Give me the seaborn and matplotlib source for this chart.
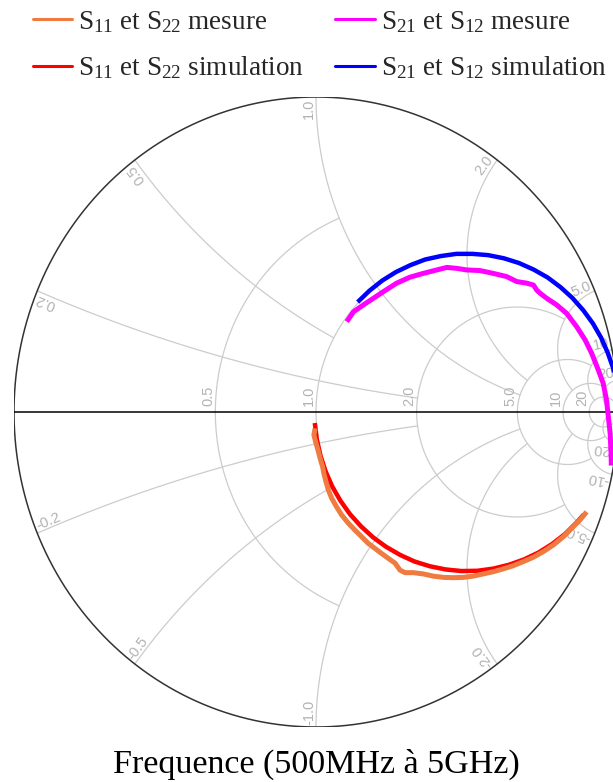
import numpy as np
import pandas as pd
import matplotlib
matplotlib.use('Agg')
import matplotlib.pyplot as plt
import seaborn as sns

s11_sim_re = [-0.004, 0.003, 0.015, 0.032, 0.054, 0.081, 0.113, 0.149, 0.189, 0.232, 0.279, 0.327,
              0.378, 0.430, 0.482, 0.535, 0.588, 0.639, 0.689, 0.737, 0.782, 0.825, 0.863, 0.887]
s11_sim_im = [-0.035, -0.088, -0.139, -0.189, -0.237, -0.282, -0.325, -0.363, -0.398, -0.428, -0.454, -0.475,
              -0.490, -0.500, -0.505, -0.504, -0.497, -0.485, -0.468, -0.446, -0.419, -0.387, -0.351, -0.325]

s11_mes_re = [-0.003, -0.007, 0.000, 0.008, 0.015, 0.022, 0.026, 0.033, 0.041, 0.052, 0.068, 0.085,
              0.107, 0.129, 0.151, 0.173, 0.195, 0.217, 0.240, 0.262, 0.278, 0.295, 0.322, 0.355,
              0.388, 0.422, 0.455, 0.488, 0.521, 0.554, 0.587, 0.620, 0.653, 0.686, 0.720, 0.753,
              0.786, 0.819, 0.847, 0.874, 0.896]
s11_mes_im = [-0.052, -0.073, -0.099, -0.126, -0.152, -0.174, -0.195, -0.221, -0.248, -0.274, -0.301, -0.327,
              -0.353, -0.375, -0.396, -0.417, -0.433, -0.449, -0.465, -0.480, -0.502, -0.510, -0.510, -0.514,
              -0.521, -0.525, -0.526, -0.525, -0.521, -0.514, -0.507, -0.498, -0.488, -0.475, -0.461, -0.443,
              -0.422, -0.396, -0.369, -0.343, -0.317]

s21_sim_re = [0.138, 0.177, 0.219, 0.264, 0.312, 0.361, 0.413, 0.465, 0.518, 0.570, 0.622, 0.672,
              0.721, 0.767, 0.810, 0.849, 0.885, 0.917, 0.944, 0.966, 0.984, 0.995]
s21_sim_im = [0.349, 0.385, 0.417, 0.444, 0.466, 0.484, 0.495, 0.502, 0.502, 0.498, 0.488, 0.473,
              0.452, 0.427, 0.396, 0.362, 0.323, 0.281, 0.236, 0.188, 0.139, 0.087]

s21_mes_re = [0.102, 0.124, 0.157, 0.190, 0.223, 0.267, 0.311, 0.355, 0.400, 0.433, 0.466, 0.499,
              0.543, 0.587, 0.631, 0.665, 0.698, 0.720, 0.731, 0.742, 0.764, 0.797, 0.830, 0.863,
              0.891, 0.913, 0.935, 0.951, 0.962, 0.968, 0.974, 0.977, 0.978]
s21_mes_im = [0.287, 0.318, 0.340, 0.361, 0.382, 0.409, 0.428, 0.440, 0.451, 0.459, 0.456, 0.451,
              0.449, 0.440, 0.430, 0.414, 0.409, 0.403, 0.387, 0.377, 0.361, 0.340, 0.313, 0.271,
              0.229, 0.186, 0.133, 0.091, 0.038, -0.015, -0.068, -0.131, -0.170]

# Smith grid: tick values and where each gridline is cut
real_ticks = [0.5, 1.0, 2.0, 5.0, 10, 20]
real_cut = [1.0, 2.0, 5.0, 10, 20, 50]
imag_ticks = [0.2, 0.5, 1.0, 2.0, 5.0, 10, 20]
imag_cut = [2.0, 1.0, 5.0, 5.0, 10, 20, 50]


def gamma(z):
    return (z - 1) / (z + 1)


def fmt(v):
    return f'{v:.1f}' if abs(v) < 10 else f'{v:.0f}'


sns.set_theme(style='white')
plt.rcParams['font.family'] = ['Liberation Serif', 'DejaVu Serif']
plt.rcParams['mathtext.fontset'] = 'custom'
plt.rcParams['mathtext.rm'] = 'Liberation Serif'
plt.rcParams['mathtext.it'] = 'Liberation Serif:italic'

W, H = 613, 782
fig = plt.figure(figsize=(W / 100, H / 100), dpi=100)
fig.patch.set_facecolor('white')
# unit circle: centre (316, 412) px, radii 302 x 315 px
ax = fig.add_axes([14 / W, (H - 727) / H, 604 / W, 630 / H])
ax.set_xlim(-1, 1)
ax.set_ylim(-1, 1)
ax.axis('off')

grid_kw = dict(color='#cccccc', lw=0.9, zorder=1)
for r, xmax in zip(real_ticks, real_cut):
    xs = np.linspace(-xmax, xmax, 3000)
    g = gamma(r + 1j * xs)
    ax.plot(g.real, g.imag, **grid_kw)
for x, rmax in zip(imag_ticks, imag_cut):
    rs = np.linspace(0, rmax, 3000)
    for s in (1, -1):
        g = gamma(rs + 1j * s * x)
        ax.plot(g.real, g.imag, **grid_kw)

t = np.linspace(0, 2 * np.pi, 1000)
ax.plot(np.cos(t), np.sin(t), color='#333333', lw=1.1, zorder=2)
ax.plot([-1, 1], [0, 0], color='black', lw=1.1, zorder=2)

lab_kw = dict(color='#b3b3b3', fontsize=10.5, family='Liberation Sans',
              rotation_mode='anchor', zorder=3)
for r in real_ticks:
    g = (r - 1) / (r + 1)
    ax.text(g, 6 / 315, fmt(r), rotation=90, ha='left', va='bottom', **lab_kw)
for x in imag_ticks:
    for s in (1, -1):
        g = gamma(1j * s * x)
        th = np.degrees(np.angle(g))
        px, py = g.real * (1 - 2 / 302), g.imag * (1 - 2 / 315)
        if s > 0:
            ax.text(px, py, fmt(x), rotation=th, ha='right', va='bottom', **lab_kw)
        else:
            ax.text(px, py, fmt(-x), rotation=th + 180, ha='left', va='bottom', **lab_kw)

series = [
    ('$\\mathrm{S}_{11}$ et $\\mathrm{S}_{22}$ simulation', s11_sim_re, s11_sim_im, '#ff0000', 3.2),
    ('$\\mathrm{S}_{21}$ et $\\mathrm{S}_{12}$ simulation', s21_sim_re, s21_sim_im, '#0000ff', 3.2),
    ('$\\mathrm{S}_{11}$ et $\\mathrm{S}_{22}$ mesure', s11_mes_re, s11_mes_im, '#ef7b40', 3.6),
    ('$\\mathrm{S}_{21}$ et $\\mathrm{S}_{12}$ mesure', s21_mes_re, s21_mes_im, '#ff00ff', 3.6),
]
lines = {}
for name, re, im, col, lw in series:
    df = pd.DataFrame({'re': re, 'im': im})
    sns.lineplot(data=df, x='re', y='im', sort=False, estimator=None, color=col,
                 lw=lw, ax=ax, zorder=5, solid_capstyle='butt', solid_joinstyle='round')
    lines[name] = ax.lines[-1]

order = [series[2][0], series[0][0], series[3][0], series[1][0]]
handles = [plt.Line2D([], [], color=lines[n].get_color(), lw=2.2) for n in order]
fig.legend(handles, order, loc='upper left', bbox_to_anchor=(33 / W, 1 - 9 / H),
           ncol=2, frameon=False, fontsize=19.5, handlelength=1.45, handletextpad=0.22,
           columnspacing=1.15, labelspacing=0.72, borderpad=0, borderaxespad=0)

fig.text(316 / W, 1 - 764 / H, 'Frequence (500MHz à 5GHz)', ha='center', va='center',
         fontsize=24.5, color='black')

fig.savefig('out.png', dpi=100, facecolor='white')
